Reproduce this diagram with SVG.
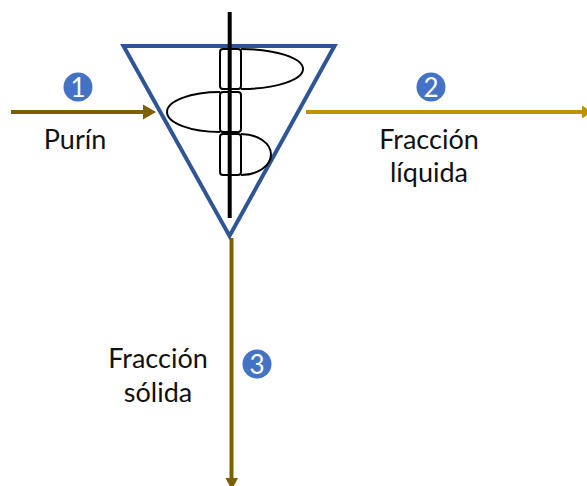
<svg xmlns="http://www.w3.org/2000/svg" width="587" height="486" viewBox="0 0 587 486">
<style>
.t{font-family:"Lato","Liberation Sans",sans-serif;font-size:27px;fill:#111;text-anchor:middle}
.n{font-family:"Lato","Liberation Sans",sans-serif;font-size:26px;fill:#fff;text-anchor:middle}
.b{fill:#4472c4}
.k{fill:none;stroke:#000;stroke-width:2}
</style>
<rect width="587" height="486" fill="#fff"/>
<g id="connectors">
<path d="M11 112H145" fill="none" stroke="#7f6000" stroke-width="4"/>
<path d="M143 104.500L156 112L143 119.500Z" fill="#7f6000"/>
<path d="M306 112H584" fill="none" stroke="#bf9000" stroke-width="4"/>
<path d="M582 105.500L592 112L582 118.500Z" fill="#bf9000"/>
<path d="M231.500 238V480" fill="none" stroke="#7f6000" stroke-width="4"/>
<path d="M225.500 478H238L231.750 490Z" fill="#7f6000"/>
</g>
<g id="separator">
<path d="M123.500 46H334.500L229.500 236Z" fill="none" stroke="#2f5597" stroke-width="4"/>
<path d="M241 49A62 20 0 0 1 241 89" class="k"/>
<path d="M220 92A53 20 0 0 0 220 132" class="k"/>
<path d="M241 134A30 20.500 0 0 1 241 175" class="k"/>
<rect x="220" y="49" width="21" height="40" rx="3" class="k"/>
<rect x="220" y="92" width="21" height="40" rx="3" class="k"/>
<rect x="220" y="134" width="21" height="41" rx="3" class="k"/>
<path d="M229.700 12V218" fill="none" stroke="#000" stroke-width="4"/>
</g>
<g id="badge-1"><circle cx="78" cy="87" r="14.500" class="b"/><text x="78" y="96.500" class="n">1</text></g>
<g id="badge-2"><circle cx="431" cy="87" r="14.500" class="b"/><text x="431" y="96.500" class="n">2</text></g>
<g id="badge-3"><circle cx="257" cy="364" r="14.500" class="b"/><text x="257" y="373.500" class="n">3</text></g>
<g id="label-purin"><text x="75" y="149" class="t">Purín</text></g>
<g id="label-liquida"><text x="429" y="149" class="t">Fracción</text><text x="429" y="182" class="t">líquida</text></g>
<g id="label-solida"><text x="158" y="368" class="t">Fracción</text><text x="158" y="402" class="t">sólida</text></g>
</svg>
